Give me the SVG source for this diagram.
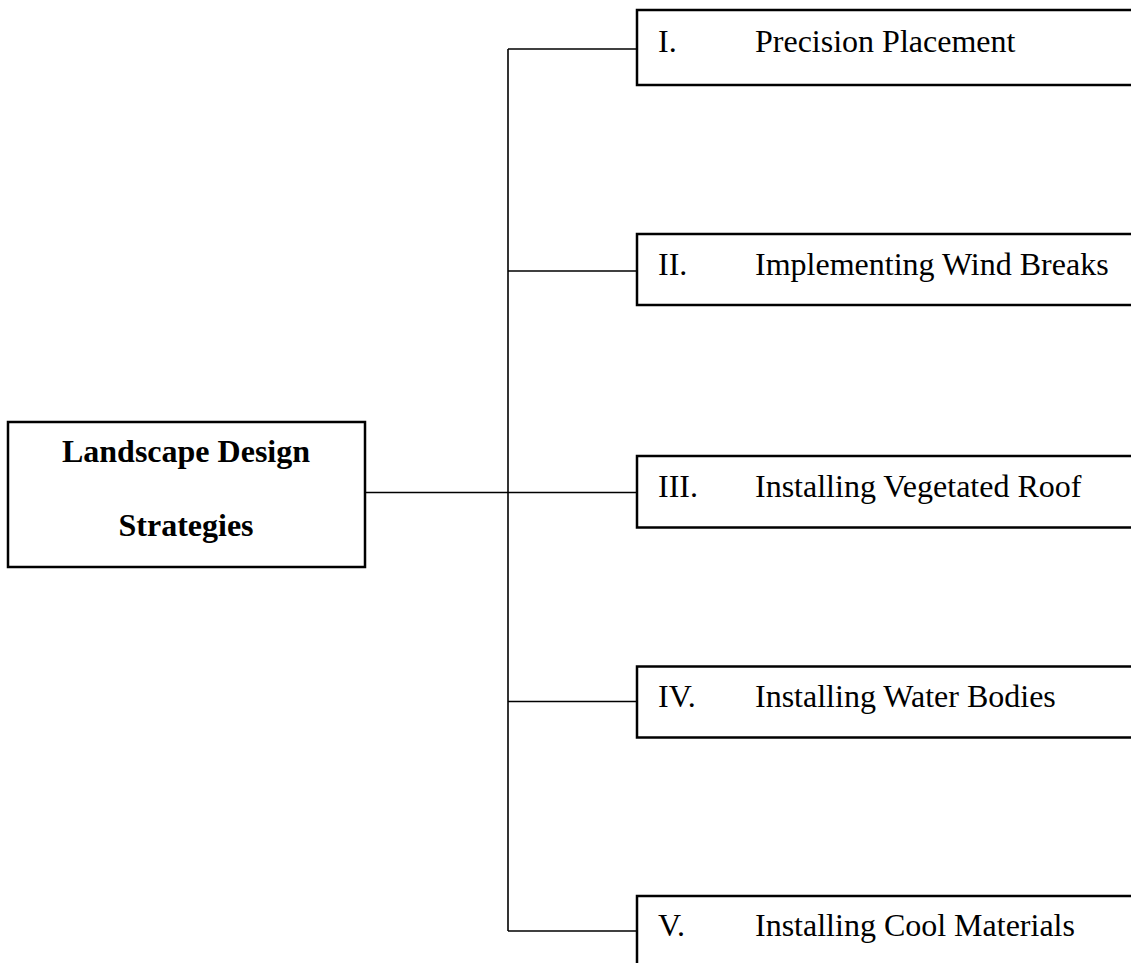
<svg xmlns="http://www.w3.org/2000/svg" width="1131" height="963" viewBox="0 0 1131 963">
<style>
.box{fill:#fff;stroke:#000;stroke-width:2.5}
.conn{fill:none;stroke:#000;stroke-width:1.6}
.t{font-family:"Liberation Serif","Times New Roman",serif;font-size:32px;fill:#000}
.b{font-weight:bold;text-anchor:middle}
</style>
<rect width="1131" height="963" fill="#fff"/>
<g id="connectors">
<line class="conn" x1="508" y1="49" x2="508" y2="931"/>
<line class="conn" x1="508" y1="49" x2="637" y2="49"/>
<line class="conn" x1="508" y1="271" x2="637" y2="271"/>
<line class="conn" x1="365" y1="492.5" x2="637" y2="492.5"/>
<line class="conn" x1="508" y1="701.5" x2="637" y2="701.5"/>
<line class="conn" x1="508" y1="931" x2="637" y2="931"/>
</g>
<g id="root">
<rect class="box" x="8" y="422" width="357" height="145"/>
<text class="t b" x="186" y="462">Landscape Design</text>
<text class="t b" x="186" y="536">Strategies</text>
</g>
<g id="n1">
<rect class="box" x="637" y="10" width="500" height="75"/>
<text class="t" x="658" y="51.5">I.</text>
<text class="t" x="755" y="51.5">Precision Placement</text>
</g>
<g id="n2">
<rect class="box" x="637" y="234" width="500" height="71"/>
<text class="t" x="658" y="275">II.</text>
<text class="t" x="755" y="275">Implementing Wind Breaks</text>
</g>
<g id="n3">
<rect class="box" x="637" y="456" width="500" height="71.5"/>
<text class="t" x="658" y="496.5">III.</text>
<text class="t" x="755" y="496.5">Installing Vegetated Roof</text>
</g>
<g id="n4">
<rect class="box" x="637" y="666.5" width="500" height="71"/>
<text class="t" x="658" y="706.5">IV.</text>
<text class="t" x="755" y="706.5">Installing Water Bodies</text>
</g>
<g id="n5">
<rect class="box" x="637" y="896" width="500" height="80"/>
<text class="t" x="658" y="936">V.</text>
<text class="t" x="755" y="936">Installing Cool Materials</text>
</g>
</svg>
